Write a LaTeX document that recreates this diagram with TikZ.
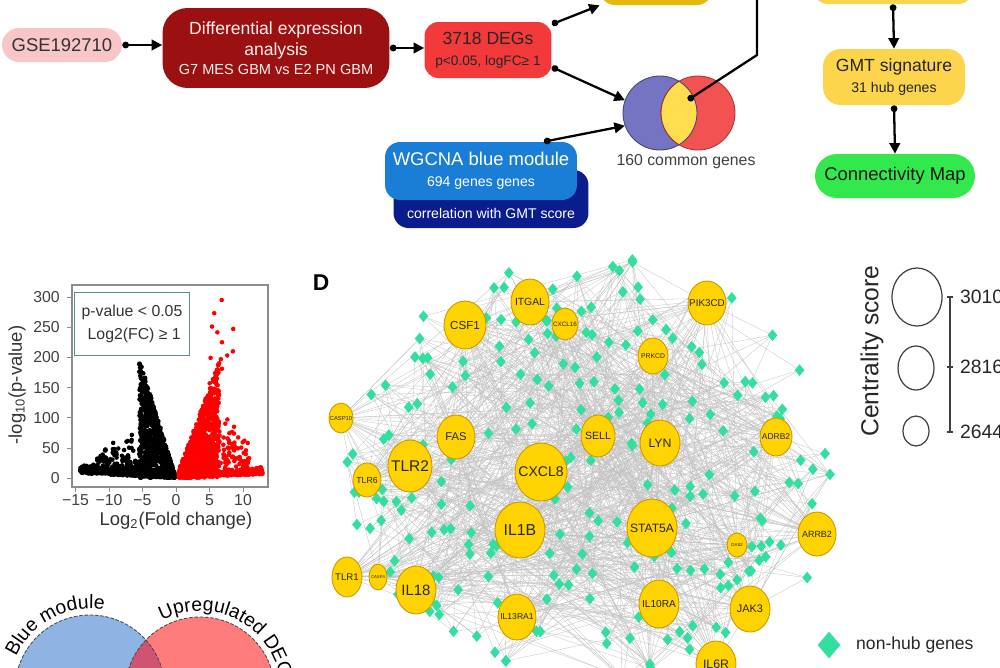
\documentclass[tikz,border=0pt]{standalone}
\usepackage{fontspec}
\setmainfont{Liberation Sans}
\usetikzlibrary{arrows.meta,shapes.geometric,decorations.text,backgrounds}

\definecolor{gsepink}{HTML}{F8C6C6}
\definecolor{deared}{HTML}{9B1111}
\definecolor{degred}{HTML}{F23A3A}
\definecolor{goldbox}{HTML}{E9B60C}
\definecolor{gmtyellow}{HTML}{FDD54C}
\definecolor{cmapgreen}{HTML}{32E84C}
\definecolor{wglight}{HTML}{1B7ED6}
\definecolor{wgdark}{HTML}{0B1C8C}
\definecolor{vennblue}{HTML}{7474C2}
\definecolor{vennred}{HTML}{F25252}
\definecolor{vennyel}{HTML}{FFDD4E}
\definecolor{hubfill}{HTML}{FFD300}
\definecolor{hubline}{HTML}{C99A00}
\definecolor{genegreen}{HTML}{33DFA0}
\definecolor{eblue}{HTML}{8DB4E2}
\definecolor{ered}{HTML}{FF7C7C}
\definecolor{elens}{HTML}{CF5472}
\definecolor{legteal}{HTML}{5E8C8E}

\tikzset{
  flowbox/.style={rectangle, inner sep=0pt, align=center},
  linkarrow/.style={line width=1.3pt, {Circle[length=3.8pt]}-{Triangle[length=6pt,width=6pt]}},
  linkline/.style={line width=1.3pt, {Circle[length=3.8pt]}-},
  hub/.style={ellipse, fill=hubfill, draw=hubline, line width=0.5pt, inner sep=-3pt, text=black!85},
  gene/.style={diamond, fill=genegreen, inner sep=0pt, minimum width=0.2cm, minimum height=0.24cm},
  netedge/.style={draw=black!24, line width=0.18pt},
  vdot/.style={fill=#1}
}

\begin{document}
\begin{tikzpicture}[x=0.02cm, y=-0.02cm]
\useasboundingbox (0,0) rectangle (1000,667);
\clip (0,0) rectangle (1000,667);

% workflow
\node[flowbox, fill=gsepink, rounded corners=0.34cm, minimum width=2.4cm, minimum height=0.68cm, text=black!80] (gse) at (62,45) {\fontsize{10.5}{12}\selectfont GSE192710};
\node[flowbox, fill=deared, rounded corners=0.5cm, minimum width=4.54cm, minimum height=1.6cm, text=red!6] (diffexp) at (276,48) {\fontsize{10}{12.4}\selectfont Differential expression\\analysis\\[-1.5pt]\fontsize{8.3}{10}\selectfont G7 MES GBM vs E2 PN GBM};
\node[flowbox, fill=degred, rounded corners=0.28cm, minimum width=2.54cm, minimum height=1.12cm, text=black!85] (degs) at (488,50) {\fontsize{10}{13}\selectfont 3718 DEGs\\\fontsize{7.8}{9}\selectfont p<0.05, logFC≥ 1};
\node[flowbox, fill=goldbox, rounded corners=0.3cm, minimum width=2.24cm, minimum height=0.8cm] (topgold) at (656,-15) {};
\node[flowbox, fill=gmtyellow, rounded corners=0.3cm, minimum width=3.2cm, minimum height=0.8cm] (topright) at (893,-16) {};
\node[flowbox, fill=gmtyellow, rounded corners=0.35cm, minimum width=2.84cm, minimum height=1.12cm, text=black!85] (gmt) at (894,77) {\fontsize{10}{13}\selectfont GMT signature\\\fontsize{8}{9}\selectfont 31 hub genes};
\node[flowbox, fill=cmapgreen, rounded corners=0.44cm, minimum width=3.2cm, minimum height=0.88cm, text=black!90] (cmap) at (895,176) {\fontsize{10.5}{12}\selectfont Connectivity Map};
\node[flowbox, fill=wgdark, rounded corners=0.3cm, minimum width=3.9cm, minimum height=1.16cm] (wgback) at (491,199) {};
\node[text=white, font=\fontsize{8}{9}\selectfont] (wgcorr) at (491,213) {correlation with GMT score};
\node[flowbox, fill=wglight, rounded corners=0.3cm, minimum width=3.84cm, minimum height=1.16cm, text=white] (wgcna) at (481,171) {\fontsize{10.5}{15}\selectfont WGCNA blue module\\\fontsize{8}{9}\selectfont 694 genes genes};

\node[circle, fill=vennblue, minimum size=1.48cm, inner sep=0pt] (vblue) at (660,113) {};
\node[circle, fill=vennred, draw=vennred!70!black, line width=0.5pt, minimum size=1.48cm, inner sep=0pt] (vred) at (698,113) {};
\begin{scope}
  \clip (660,113) circle[radius=37];
  \fill[vennyel, draw=vennred!60!black, line width=0.5pt] (698,113) circle[radius=37];
\end{scope}
\draw[vennblue!60!black, line width=0.5pt] (660,113) circle[radius=37];
\node[text=black!75, font=\fontsize{9}{11}\selectfont] (common) at (686,162) {160 common genes};

\coordinate (lens) at (688,100);
\coordinate (bend) at (757,55);
\coordinate (topexit) at (757,-10);

\draw[linkarrow] (gse.east) -- (gse.east -| diffexp.west);
\draw[linkarrow] (diffexp.east) -- (diffexp.east -| degs.west);
\draw[linkarrow] (degs.22) -- (topgold.south west);
\draw[linkarrow] (degs.-15) -- (vblue.160);
\draw[linkarrow] (wgcna.25) -- (vblue.200);
\draw[linkline] (lens) -- (bend) -- (topexit);
\draw[linkarrow] (topright.south) -- (gmt.north);
\draw[linkarrow] (gmt.south) -- (cmap.north);

% volcano
\begin{scope}[xshift=3.52cm, yshift=-9.56cm, x=0.134cm, y=0.01206cm]
  \pgfmathsetseed{17}
  \foreach \i in {1,...,800}{
    \pgfmathsetmacro\a{0.2+5.3*rnd}
    \pgfmathsetmacro\b{36*\a*rnd}
    \fill[vdot=black] (-\a,\b) circle[radius=1.3pt];
  }
  \foreach \i in {1,...,300}{
    \pgfmathsetmacro\a{1+13.3*rnd}
    \pgfmathsetmacro\b{1.5*\a*(0.35+0.65*rnd)}
    \fill[vdot=black] (-\a,\b) circle[radius=1.3pt];
  }
  \foreach \i in {1,...,220}{
    \pgfmathsetmacro\a{4+8.5*rnd}
    \pgfmathsetmacro\b{(150-10*\a)*rnd*rnd+8}
    \fill[vdot=black] (-\a,\b) circle[radius=1.3pt];
  }
  \foreach \i in {1,...,800}{
    \pgfmathsetmacro\a{0.4+6*rnd}
    \pgfmathsetmacro\b{30*\a*rnd}
    \fill[vdot=red] (\a,\b) circle[radius=1.3pt];
  }
  \foreach \i in {1,...,300}{
    \pgfmathsetmacro\a{1+12*rnd}
    \pgfmathsetmacro\b{1.4*\a*(0.35+0.65*rnd)}
    \fill[vdot=red] (\a,\b) circle[radius=1.3pt];
  }
  \foreach \i in {1,...,220}{
    \pgfmathsetmacro\a{3+8*rnd}
    \pgfmathsetmacro\b{(170-9*\a)*rnd*rnd+6}
    \fill[vdot=red] (\a,\b) circle[radius=1.3pt];
  }
  \foreach \i in {1,...,16}{
    \pgfmathsetmacro\a{5+4*rnd}
    \pgfmathsetmacro\b{130+170*rnd}
    \fill[vdot=red] (\a,\b) circle[radius=1.3pt];
  }
\end{scope}
\draw[black!45, line width=0.6pt] (72,285) rectangle (268,487);
\foreach \v/\lab [count=\c] in {-15/−15,-10/−10,-5/−5,0/0,5/5,10/10}{
  \pgfmathsetmacro\tx{176+6.7*\v}
  \draw[black!45] (\tx,487) -- (\tx,492);
  \node[text=black!75, font=\fontsize{9}{10}\selectfont] (xtick\c) at (\tx,500) {\lab};
}
\foreach \v [count=\c] in {0,50,...,300}{
  \pgfmathsetmacro\ty{478-0.603*\v}
  \draw[black!45] (72,\ty) -- (67,\ty);
  \node[anchor=east, text=black!75, font=\fontsize{9}{10}\selectfont] (ytick\c) at (66,\ty) {\v};
}
\node[rotate=90, text=black!80, font=\fontsize{10.5}{12}\selectfont] (ylab) at (17,385) {-log\textsubscript{10}(p-value)};
\node[text=black!80, font=\fontsize{10.5}{12}\selectfont] (xlab) at (176,521) {Log\textsubscript{2}(Fold change)};
\node[draw=legteal, line width=0.8pt, fill=white, fill opacity=0.85, text opacity=1, align=center, minimum width=2.3cm, minimum height=1.26cm, text=black!80, font=\fontsize{9}{13}\selectfont] (vlegend) at (132,324) {p-value < 0.05\\ \ Log2(FC) ≥ 1};

% Venn blue module vs upregulated DEGs
\fill[eblue] (90,690) circle[radius=75];
\fill[ered] (200,692) circle[radius=75];
\begin{scope}
  \clip (90,690) circle[radius=75];
  \fill[elens] (200,692) circle[radius=75];
\end{scope}
\draw[black!70, line width=0.5pt, dash pattern=on 2pt off 1pt] (90,690) circle[radius=75];
\draw[black!70, line width=0.5pt, dash pattern=on 2pt off 1pt] (200,692) circle[radius=75];
\path[decorate, decoration={text along path, text={|\fontsize{11}{13}\selectfont|Blue module}, text align=left}] (90,690) ++(-156:81) arc[start angle=-156, end angle=-60, radius=81];
\path[decorate, decoration={text along path, text={|\fontsize{11}{13}\selectfont|Upregulated DEGs}, text align=left}] (200,692) ++(-118:81) arc[start angle=-118, end angle=40, radius=81];

% network
\node[font=\fontsize{13}{15}\selectfont\bfseries] (plabD) at (321,283) {D};
\pgfmathsetseed{5}
\foreach \i in {1,...,250}{
  \pgfmathsetmacro\ang{360*rnd}
  \pgfmathsetmacro\rad{sqrt(rnd)}
  \pgfmathsetmacro\gx{595+248*\rad*cos(\ang)}
  \pgfmathsetmacro\gy{468+212*\rad*sin(\ang)}
  \node[gene] (d\i) at (\gx,\gy) {};
}
\foreach \n/\hx/\hy/\rx/\ry/\fs in {
  ITGAL/530/302/19/23/5.9, CXCL16/565/324/13/16/3.6, CSF1/465/325/21/24/6.6,
  PIK3CD/707/303/19/22/5.6, PRKCD/653/356/15/18/3.9, CASP10/341/418/12/15/3.3,
  FAS/456/437/19/22/6.4, SELL/598/436/17/21/6, LYN/660/443/20/23/7,
  ADRB2/776/437/16/19/4.8, TLR2/410/466/22/26/8.8, TLR6/367/480/14/17/5,
  CXCL8/541/472/26/29/8, IL1B/520/530/25/28/9, STAT5A/652/528/25/29/6.9,
  ARRB2/817/534/19/22/5.1, OAS2/737/545/10/12/2.5, TLR1/347/577/15/20/5.5,
  CASP4/378/577/9/13/2.4, IL18/416/590/20/24/8.5, IL10RA/659/604/20/24/5.8,
  JAK3/750/609/20/23/6.2, IL13RA1/517/617/19/23/4.9, IL6R/716/664/20/23/7}{
  \node[hub, minimum width=\rx*0.04cm, minimum height=\ry*0.04cm, font=\fontsize{\fs}{\fs}\selectfont] (\n) at (\hx,\hy) {\n};
}
\begin{pgfonlayer}{background}
  \begin{scope}
    \clip (0,0) rectangle (1000,667);
    \pgfmathsetseed{9}
    \foreach \h in {ITGAL,CXCL16,CSF1,PIK3CD,PRKCD,CASP10,FAS,SELL,LYN,ADRB2,TLR2,TLR6,CXCL8,IL1B,STAT5A,ARRB2,OAS2,TLR1,CASP4,IL18,IL10RA,JAK3,IL13RA1,IL6R}{
      \foreach \j in {1,...,26}{
        \pgfmathtruncatemacro\k{random(1,250)}
        \draw[netedge] (\h) -- (d\k);
      }
    }
    \foreach \j in {1,...,380}{
      \pgfmathtruncatemacro\p{random(1,250)}
      \pgfmathtruncatemacro\q{random(1,250)}
      \draw[netedge] (d\p) -- (d\q);
    }
  \end{scope}
\end{pgfonlayer}

% legend
\node[rotate=90, text=black!85, font=\fontsize{14}{16}\selectfont] (centtitle) at (872,351) {Centrality score};
\draw[black!75, line width=0.7pt] (917,297) ellipse[x radius=25, y radius=29];
\draw[black!75, line width=0.7pt] (916,368) ellipse[x radius=18, y radius=22];
\draw[black!75, line width=0.7pt] (916,431) ellipse[x radius=13, y radius=15];
\draw[black!75, line width=0.6pt] (950,297) -- (950,432);
\foreach \ty/\tl in {297/3010, 367/2816, 432/2644}{
  \draw[black!75, line width=0.6pt] (947,\ty) -- (953,\ty);
  \node[anchor=west, text=black!85, font=\fontsize{11}{12}\selectfont] (cs\tl) at (954,\ty) {\tl};
}
\node[gene, minimum width=0.46cm, minimum height=0.54cm] (genekey) at (829,645) {};
\node[anchor=west, text=black!85, font=\fontsize{10}{12}\selectfont] (genekeytext) at (850,645) {non-hub genes};
\end{tikzpicture}
\end{document}
